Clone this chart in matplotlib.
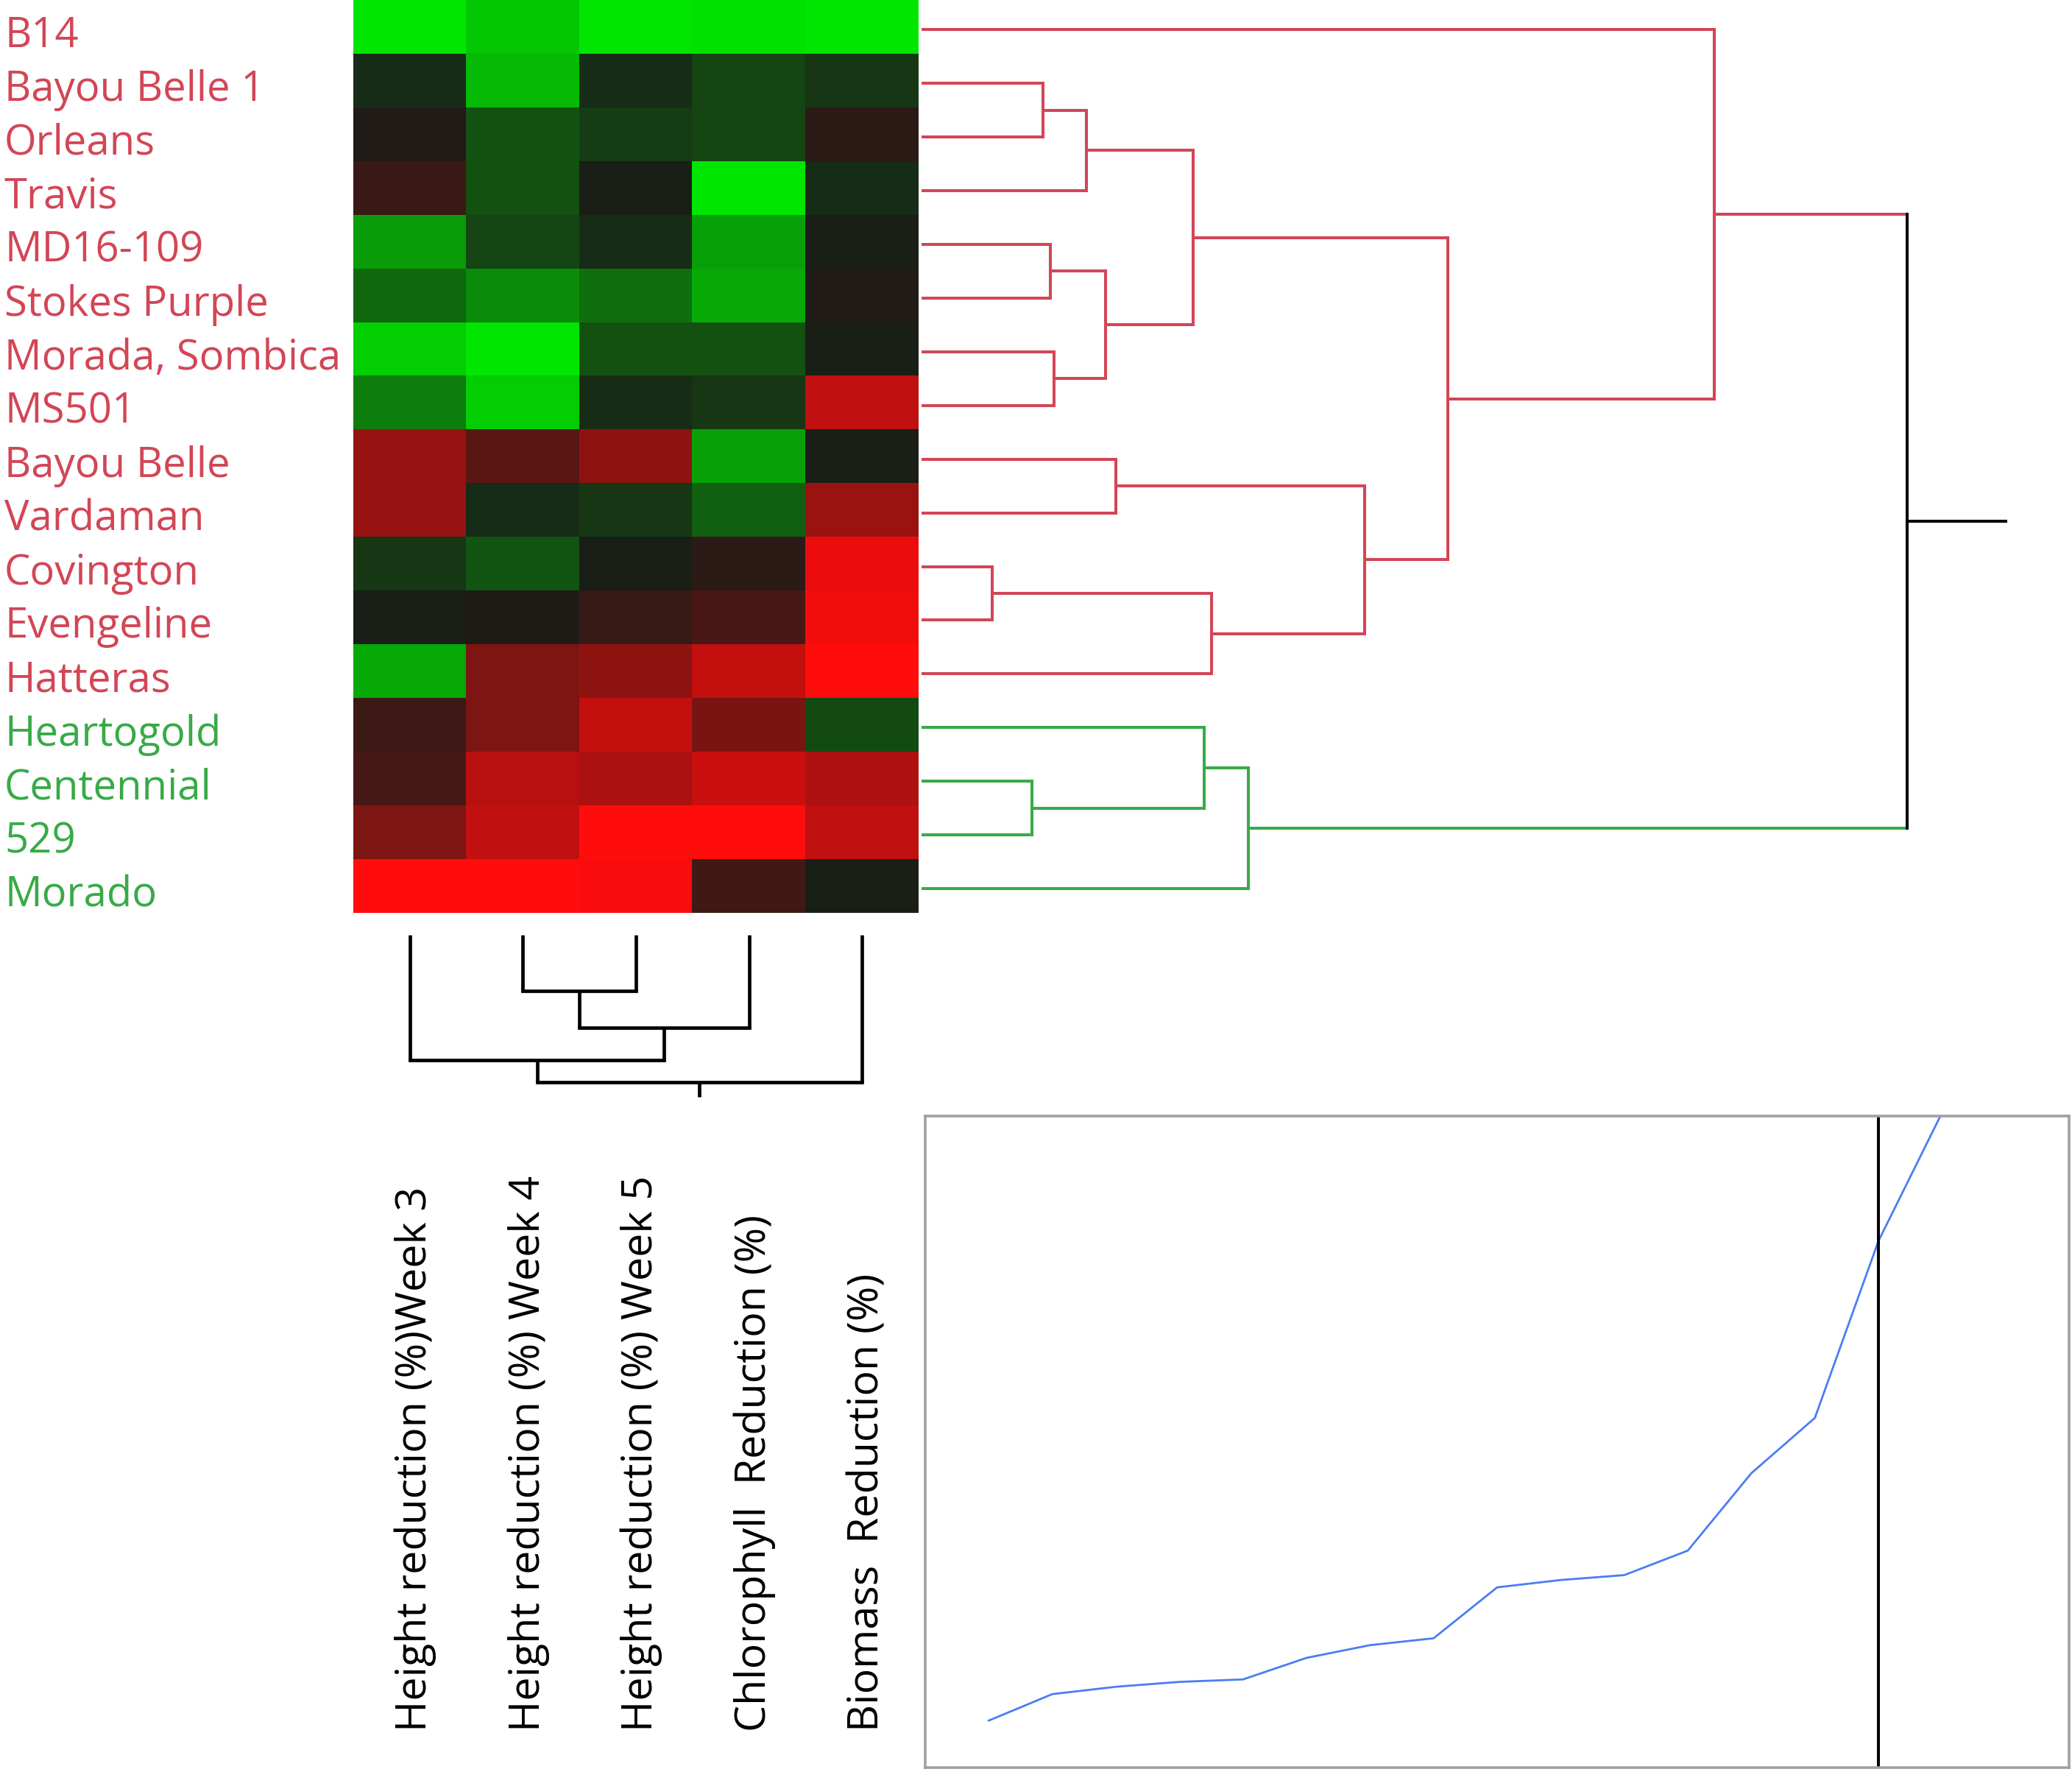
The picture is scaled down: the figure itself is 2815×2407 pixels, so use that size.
import numpy as np
import matplotlib
matplotlib.use("Agg")
import matplotlib.pyplot as plt
from matplotlib.colors import LinearSegmentedColormap
from matplotlib.transforms import blended_transform_factory

# ---------------- data ----------------
row_labels = ["B14", "Bayou Belle 1", "Orleans", "Travis", "MD16-109", "Stokes Purple",
              "Morada, Sombica", "MS501", "Bayou Belle", "Vardaman", "Covington",
              "Evengeline", "Hatteras", "Heartogold", "Centennial", "529", "Morado"]
col_labels = ["Height reduction (%)Week 3", "Height reduction (%) Week 4",
              "Height reduction (%) Week 5", "Chlorophyll  Reduction (%)",
              "Biomass  Reduction (%)"]

# standardized values (-1 = strong green, +1 = strong red)
h_week3 = [-1.00, -0.08, 0.03, 0.14, -0.63, -0.38, -0.88, -0.48, 0.54, 0.54, -0.13, -0.01, -0.70, 0.15, 0.19, 0.43, 1.00]
h_week4 = [-0.85, -0.78, -0.26, -0.26, -0.21, -0.55, -1.00, -0.88, 0.28, -0.08, -0.28, 0.02, 0.43, 0.43, 0.69, 0.72, 1.00]
h_week5 = [-1.00, -0.08, -0.16, -0.01, -0.08, -0.41, -0.26, -0.08, 0.50, -0.13, -0.01, 0.13, 0.50, 0.74, 0.63, 1.00, 0.98]
chloro  = [-0.97, -0.21, -0.21, -1.00, -0.65, -0.70, -0.26, -0.13, -0.65, -0.33, 0.08, 0.21, 0.74, 0.41, 0.76, 1.00, 0.17]
biomass = [-1.00, -0.13, 0.08, -0.08, -0.01, 0.03, -0.01, 0.72, -0.01, 0.56, 0.91, 0.93, 1.00, -0.23, 0.65, 0.72, -0.01]

# row linkage: (child a, child b, merge height); new nodes numbered from 17
row_links = [(1, 2, 1.65), (17, 3, 2.24), (4, 5, 1.75), (6, 7, 1.80), (19, 20, 2.50),
             (18, 21, 3.68), (8, 9, 2.64), (10, 11, 0.96), (24, 12, 3.93), (23, 25, 6.01),
             (22, 26, 7.14), (0, 27, 10.75), (14, 15, 1.50), (13, 29, 3.83), (30, 16, 4.43),
             (28, 31, 13.37)]
row_groups = [0] * 13 + [1] * 4          # 0 = red cluster, 1 = green cluster
n_clusters = 2

# column linkage; new nodes numbered from 5
col_links = [(1, 2, 3.8), (5, 3, 6.3), (0, 6, 8.5), (7, 4, 10.0)]

# ---------------- style ----------------
W, H = 2815, 2407
RED = "#d24656"
GREEN = "#38aa47"
FONT = "Open Sans"
plt.rcParams["font.family"] = [FONT, "DejaVu Sans"]

fig = plt.figure(figsize=(W / 100, H / 100), dpi=100)
fig.patch.set_facecolor("white")


def box(x0, y0, x1, y1):
    return [x0 / W, 1 - y1 / H, (x1 - x0) / W, (y1 - y0) / H]


def dendro_segments(links, n, pos0):
    pos = {i: pos0(i) for i in range(n)}
    hgt = {i: 0.0 for i in range(n)}
    leaves = {i: [i] for i in range(n)}
    segs = []
    for k, (a, b, h) in enumerate(links):
        nid = n + k
        segs.append((a, b, nid, pos[a], hgt[a], pos[b], hgt[b], h))
        pos[nid] = (pos[a] + pos[b]) / 2
        hgt[nid] = h
        leaves[nid] = leaves[a] + leaves[b]
    return segs, pos, hgt, leaves


# ---------------- heatmap ----------------
data = np.array([h_week3, h_week4, h_week5, chloro, biomass]).T
cmap = LinearSegmentedColormap.from_list("gkr", [(0, "#00e600"), (0.5, "#1a1c18"), (1, "#ff0c0c")])
ax_h = fig.add_axes(box(480, 0, 1248, 1240))
ax_h.imshow(data, cmap=cmap, vmin=-1, vmax=1, aspect="auto",
            extent=(0, data.shape[1], data.shape[0], 0), interpolation="nearest")
ax_h.set_xlim(0, data.shape[1])
ax_h.set_ylim(data.shape[0], 0)
ax_h.axis("off")

# row labels
tr_rows = blended_transform_factory(fig.transFigure, ax_h.transData)
for i, lab in enumerate(row_labels):
    ax_h.text(6 / W, i + 0.68, lab, transform=tr_rows, ha="left", va="center",
              fontsize=40.5, color=RED if row_groups[i] == 0 else GREEN, clip_on=False)

# column labels
tr_cols = blended_transform_factory(ax_h.transData, fig.transFigure)
for j, lab in enumerate(col_labels):
    ax_h.text(j + 0.55, 1 - 2352 / H, lab, transform=tr_cols, rotation=90,
              ha="center", va="bottom", fontsize=41.3, color="black", clip_on=False)

# ---------------- row dendrogram ----------------
n_rows = len(row_labels)
root_h = row_links[-1][2]
ax_r = fig.add_axes(box(1252, 0, 2725, 1240))
ax_r.set_xlim(0, root_h * 1.1)
ax_r.set_ylim(n_rows, 0)
ax_r.axis("off")
segs, rpos, rhgt, rleaves = dendro_segments(row_links, n_rows, lambda i: i + 0.55)


def node_color(members):
    gs = {row_groups[m] for m in members}
    if gs == {0}:
        return RED
    if gs == {1}:
        return GREEN
    return "black"


lw = 2.9
for a, b, nid, pa, ha, pb, hb, h in segs:
    ca, cb, cn = node_color(rleaves[a]), node_color(rleaves[b]), node_color(rleaves[nid])
    ax_r.plot([ha, h], [pa, pa], color=ca, lw=lw, solid_capstyle="butt", clip_on=False)
    ax_r.plot([hb, h], [pb, pb], color=cb, lw=lw, solid_capstyle="butt", clip_on=False)
    ax_r.plot([h, h], [pa, pb], color=cn, lw=lw, solid_capstyle="projecting", clip_on=False)
root_id = n_rows + len(row_links) - 1
ax_r.plot([root_h, root_h * 1.1], [rpos[root_id], rpos[root_id]], color="black", lw=lw,
          clip_on=False)

# ---------------- column dendrogram ----------------
n_cols = len(col_labels)
croot_h = col_links[-1][2]
ax_c = fig.add_axes(box(480, 1270, 1248, 1490))
ax_c.set_xlim(0, n_cols)
ax_c.set_ylim(croot_h * 1.1, 0)
ax_c.axis("off")
csegs, cpos, chgt, cleaves = dendro_segments(col_links, n_cols, lambda i: i + 0.5)
lwc = 3.4
for a, b, nid, pa, ha, pb, hb, h in csegs:
    ax_c.plot([pa, pa], [ha, h], color="black", lw=lwc, solid_capstyle="butt", clip_on=False)
    ax_c.plot([pb, pb], [hb, h], color="black", lw=lwc, solid_capstyle="butt", clip_on=False)
    ax_c.plot([pa, pb], [h, h], color="black", lw=lwc, solid_capstyle="projecting", clip_on=False)
croot = n_cols + len(col_links) - 1
ax_c.plot([cpos[croot], cpos[croot]], [croot_h, croot_h * 1.1], color="black", lw=lwc,
          solid_capstyle="butt", clip_on=False)

# ---------------- merge-height chart ----------------
heights = np.sort([l[2] for l in row_links])
steps = np.arange(1, len(heights) + 1)
ax_l = fig.add_axes(box(1257, 1516, 2811, 2401))
ax_l.plot(steps, heights, color="#4a7df5", lw=2.0)
ax_l.axvline(n_rows - n_clusters, color="black", lw=2.9)
ax_l.set_xlim(0, 18)
ax_l.set_ylim(0, root_h * 0.995)
ax_l.set_xticks([])
ax_l.set_yticks([])
for sp in ax_l.spines.values():
    sp.set_color("#a0a0a0")
    sp.set_linewidth(2.6)

fig.savefig("out.png", dpi=100, facecolor="white")
